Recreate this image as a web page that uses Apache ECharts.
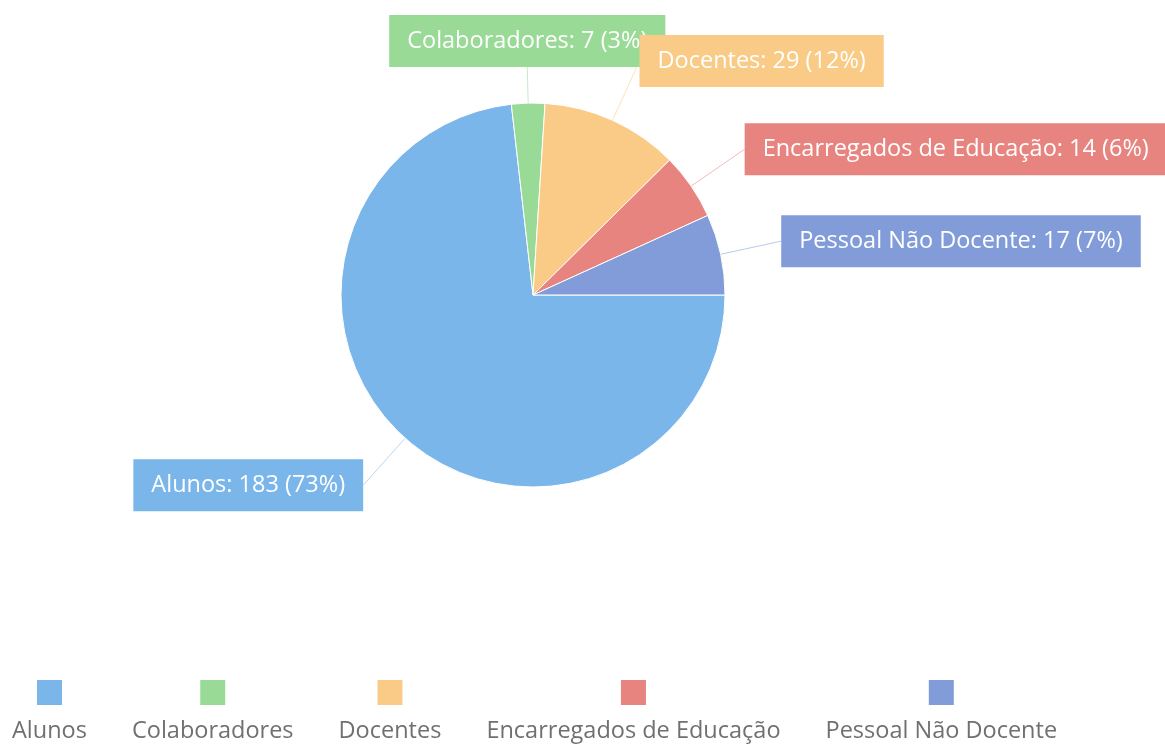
<!DOCTYPE html>
<html>
<head>
<meta charset="utf-8">
<script src="https://cdn.jsdelivr.net/npm/echarts@6/dist/echarts.min.js"></script>
<style>
html,body{margin:0;padding:0;background:#fff;}
#chart{width:1165px;height:747px;}
</style>
</head>
<body>
<div id="chart"></div>
<script>
const categories = ['Alunos', 'Colaboradores', 'Docentes', 'Encarregados de Educação', 'Pessoal Não Docente'];
const values = [183, 7, 29, 14, 17];
const colors = ['#7AB6EA', '#98DA96', '#F9CB86', '#E88480', '#829CDA'];

const FONT = 'Open Sans';
const FS = 23.5;
const total = values.reduce((a, b) => a + b, 0);
// per-slice label line lengths (style only)
const lineLen = [63, 36, 65, 65, 62];

const legendRich = { t: { align: 'center', fontSize: FS, color: '#707070', fontFamily: FONT, lineHeight: 28, padding: [25, 0, 0, 0] } };
colors.forEach((c, i) => {
  legendRich['i' + i] = { align: 'center', backgroundColor: c, width: 25, height: 25 };
});

const chart = echarts.init(document.getElementById('chart'));
chart.setOption({
  animation: false,
  color: colors,
  legend: {
    data: categories,
    left: 1,
    top: 675,
    orient: 'horizontal',
    itemWidth: 0,
    itemHeight: 0,
    itemGap: 39,
    icon: 'rect',
    selectedMode: false,
    formatter: function (name) {
      const i = categories.indexOf(name);
      return '{i' + i + '|}\n{t|' + name + '}';
    },
    textStyle: { rich: legendRich, fontFamily: FONT }
  },
  series: [{
    type: 'pie',
    center: [533, 295],
    radius: 192,
    startAngle: 0,
    clockwise: true,
    avoidLabelOverlap: false,
    itemStyle: { borderColor: '#fff', borderWidth: 1 },
    label: {
      show: true,
      position: 'outside',
      color: '#fff',
      fontSize: FS,
      lineHeight: 26,
      fontFamily: FONT,
      distanceToLabelLine: 0,
      padding: [13, 18, 13, 18],
      formatter: function (p) {
        return p.name + ': ' + p.value + ' (' + Math.round(p.value / total * 100) + '%)';
      }
    },
    labelLine: { show: true, length2: 0, lineStyle: { width: 1, opacity: 0.55 } },
    labelLayout: function (params) {
      const pts = params.labelLinePoints;
      if (!pts) return {};
      const a = pts[0], b = pts[1];
      const dx = b[0] - a[0], dy = b[1] - a[1];
      if (Math.abs(dx) < Math.abs(dy) * 0.2 && dy < 0) {
        return { x: b[0], y: b[1], align: 'center', verticalAlign: 'bottom' };
      }
      return {};
    },
    data: categories.map((n, i) => ({
      name: n,
      value: values[i],
      label: { backgroundColor: colors[i] },
      labelLine: { length: lineLen[i] }
    }))
  }]
});
</script>
</body>
</html>
